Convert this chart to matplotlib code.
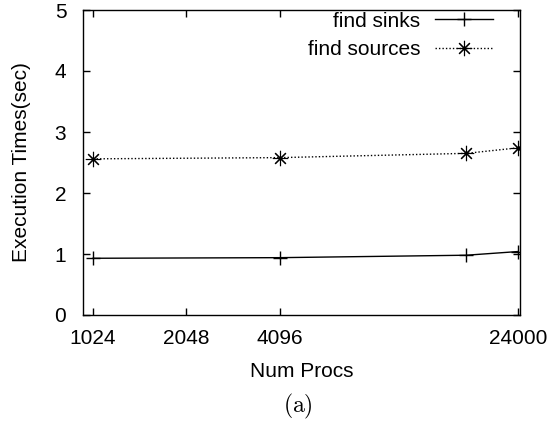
import matplotlib
matplotlib.use("Agg")
import matplotlib.pyplot as plt
from matplotlib.ticker import FixedLocator, FixedFormatter, NullLocator

procs = [1024, 4096, 16384, 24000]
find_sinks = [0.93, 0.94, 0.98, 1.04]
find_sources = [2.56, 2.58, 2.65, 2.74]
xtick_vals = [1024, 2048, 4096, 24000]
xtick_labels = ["1024", "2048", "4096", "24000"]
ytick_vals = [0, 1, 2, 3, 4, 5]

plt.rcParams['font.family'] = ['Liberation Sans', 'DejaVu Sans']
plt.rcParams['mathtext.fontset'] = 'cm'

fig = plt.figure(figsize=(5.52, 4.28), dpi=100)
ax = fig.add_axes([83/552, 1-315/428, (520-83)/552, (315-10)/428])

ax.plot(procs, find_sinks, color='black', lw=1.0, marker='+', markersize=10,
        markeredgewidth=1.0, label='find sinks')
ax.plot(procs, find_sources, color='black', lw=1.0, linestyle=(0, (1, 1.5)),
        marker=(8, 2, 0), markersize=11, markeredgewidth=0.8, label='find sources')

ax.set_xscale('log')
ax.set_xlim(950, 24400)
ax.set_ylim(0, 5)
ax.xaxis.set_major_locator(FixedLocator(xtick_vals))
ax.xaxis.set_major_formatter(FixedFormatter(xtick_labels))
ax.xaxis.set_minor_locator(NullLocator())
ax.set_yticks(ytick_vals)
ax.set_yticklabels([str(v) for v in ytick_vals])

ax.tick_params(direction='in', length=5, width=1, top=True, right=True,
               labelsize=15, color='black')
ax.tick_params(axis='x', pad=10)
ax.tick_params(axis='y', pad=12)
for s in ax.spines.values():
    s.set_linewidth(1.0)

ax.set_xlabel('Num Procs', fontsize=15, labelpad=10)
ax.set_ylabel('Execution Times(sec)', fontsize=15, labelpad=17)

ax.legend(loc='upper right', frameon=False, markerfirst=False, fontsize=15,
          handlelength=2.8, handletextpad=0.7, borderaxespad=0, borderpad=0,
          labelspacing=0.45, bbox_to_anchor=((493-83)/437, 0.995))

fig.text(0.54, 1-406/428, r'$\mathrm{(a)}$', fontsize=17, ha='center', va='center')

fig.savefig('out.png', dpi=100)
